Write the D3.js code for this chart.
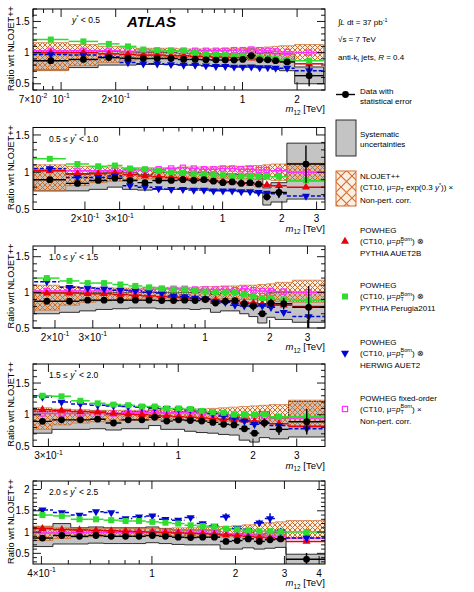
<!DOCTYPE html>
<html><head><meta charset="utf-8">
<script src="https://cdn.jsdelivr.net/npm/d3@7"></script>
<style>body{margin:0;background:#fff}svg{display:block;font-family:"Liberation Sans",Arial,Helvetica,sans-serif}</style>
</head><body><svg id="c" width="474" height="592"></svg>
<script>
// ---------------- DATA ----------------
const p1Edges=[0.07,0.11,0.16,0.21,0.26,0.31,0.37,0.44,0.51,0.59,0.67,0.76,0.85,0.95,1.06,1.18,1.31,1.45,1.6,1.94,2.8];
const p1Data=[0.87,0.89,0.92,0.91,0.905,0.905,0.905,0.89,0.89,0.885,0.88,0.88,0.88,0.89,0.95,0.885,0.885,0.87,0.85,0.63];
const p1Stat=[0.008,0.008,0.008,0.008,0.008,0.008,0.008,0.008,0.008,0.01,0.01,0.01,0.012,0.015,0.02,0.02,0.025,0.03,0.045,0.17];
const p1SysLo=[0.72,0.76,0.8,0.8,0.81,0.81,0.81,0.8,0.8,0.79,0.79,0.79,0.78,0.78,0.8,0.77,0.76,0.73,0.71,0.5];
const p1SysHi=[0.98,1.0,1.02,1.01,1.0,1.0,1.0,0.99,0.99,0.98,0.98,0.98,0.98,0.99,1.06,0.99,1.0,0.99,0.98,0.77];
const p1NloLo=[0.71,0.79,0.84,0.88,0.9,0.91,0.92,0.92,0.92,0.92,0.92,0.92,0.92,0.92,0.91,0.91,0.9,0.9,0.89,0.87];
const p1NloHi=[1.16,1.13,1.1,1.08,1.07,1.07,1.07,1.06,1.06,1.06,1.06,1.07,1.07,1.07,1.08,1.08,1.09,1.1,1.11,1.13];
const p1Red=[1.0,1.0,0.98,0.97,0.96,0.96,0.95,0.95,0.94,0.94,0.93,0.93,0.92,0.92,0.91,0.9,0.89,0.88,0.86,0.82];
const p1Green=[1.21,1.18,1.14,1.1,1.05,1.04,1.03,1.03,1.0,0.98,0.97,0.96,0.95,0.95,0.94,0.92,0.9,0.9,0.88,0.87];
const p1Blue=[0.97,0.96,0.93,0.84,0.82,0.82,0.81,0.8,0.8,0.79,0.78,0.78,0.77,0.77,0.77,0.76,0.76,0.75,0.75,0.71];
const p1Mag=[1.03,1.03,1.03,1.02,1.02,1.02,1.03,1.03,1.03,1.03,1.03,1.03,1.04,1.04,1.05,1.04,1.03,1.02,1.01,1.0];

const p2Edges=[0.11,0.16,0.21,0.26,0.31,0.37,0.44,0.51,0.59,0.67,0.76,0.85,0.95,1.06,1.18,1.31,1.45,1.6,1.76,2.12,3.31];
const p2Data=[0.9,0.85,0.89,0.92,0.89,0.86,0.89,0.89,0.9,0.89,0.9,0.88,0.86,0.87,0.85,0.86,0.84,0.67,0.73,1.11];
const p2Stat=[0.008,0.008,0.008,0.012,0.008,0.008,0.008,0.008,0.008,0.01,0.01,0.012,0.015,0.015,0.02,0.02,0.03,0.05,0.07,0.25];
const p2SysLo=[0.75,0.75,0.77,0.8,0.77,0.76,0.77,0.77,0.78,0.78,0.78,0.77,0.76,0.76,0.75,0.74,0.72,0.56,0.6,0.64];
const p2SysHi=[1.02,0.97,1.0,1.02,1.0,0.97,1.0,1.0,1.0,1.0,1.0,0.99,0.97,0.98,0.97,0.98,0.97,0.79,0.86,1.39];
const p2NloLo=[0.75,0.82,0.86,0.88,0.9,0.91,0.92,0.92,0.92,0.92,0.92,0.92,0.92,0.92,0.91,0.91,0.9,0.9,0.89,0.88];
const p2NloHi=[1.1,1.08,1.07,1.07,1.06,1.06,1.06,1.06,1.07,1.07,1.07,1.07,1.08,1.08,1.08,1.09,1.09,1.1,1.11,1.12];
const p2Red=[1.02,0.98,0.98,0.99,0.97,0.95,0.94,0.93,0.92,0.91,0.9,0.89,0.88,0.87,0.86,0.85,0.84,0.83,0.82,0.8];
const p2Green=[1.18,1.11,1.08,1.09,1.05,1.04,1.02,1.0,0.99,0.98,0.97,0.96,0.96,0.95,0.95,0.95,0.95,0.95,0.94,0.89];
const p2Blue=[1.05,0.93,0.93,0.95,0.82,0.8,0.78,0.77,0.77,0.76,0.76,0.75,0.75,0.75,0.74,0.74,0.73,0.72,0.71,0.68];
const p2Mag=[1.03,1.02,1.02,1.02,1.03,1.03,1.04,1.05,1.06,1.05,1.04,1.04,1.05,1.05,1.04,1.04,1.03,1.03,1.02,1.0];

const p3Edges=[0.16,0.21,0.26,0.31,0.37,0.44,0.51,0.59,0.67,0.76,0.85,0.95,1.06,1.18,1.31,1.45,1.6,1.76,1.94,2.12,2.55,3.62];
const p3Data=[0.875,0.875,0.89,0.89,0.89,0.89,0.89,0.885,0.885,0.89,0.885,0.9,0.85,0.875,0.885,0.84,0.81,0.7,0.85,0.84,0.79];
const p3Stat=[0.01,0.008,0.008,0.008,0.008,0.008,0.008,0.008,0.008,0.01,0.01,0.012,0.015,0.015,0.02,0.025,0.03,0.035,0.06,0.08,0.3];
const p3SysLo=[0.7,0.72,0.74,0.76,0.77,0.78,0.78,0.77,0.77,0.77,0.76,0.77,0.72,0.74,0.74,0.7,0.66,0.57,0.65,0.62,0.58];
const p3SysHi=[1.0,1.0,1.0,1.0,1.0,1.0,1.0,1.0,1.0,1.0,1.0,1.02,0.97,1.0,1.01,0.97,0.95,0.83,1.0,1.0,1.0];
const p3NloLo=[0.75,0.82,0.86,0.88,0.9,0.91,0.92,0.92,0.92,0.92,0.92,0.92,0.91,0.91,0.91,0.9,0.9,0.89,0.88,0.87,0.86];
const p3NloHi=[1.1,1.08,1.07,1.07,1.06,1.06,1.06,1.07,1.07,1.07,1.07,1.08,1.08,1.09,1.09,1.1,1.1,1.11,1.12,1.14,1.17];
const p3Red=[0.99,0.99,0.98,0.98,0.97,0.96,0.95,0.94,0.93,0.92,0.91,0.9,0.89,0.88,0.87,0.86,0.85,0.84,0.83,0.82,0.8];
const p3Green=[1.2,1.16,1.13,1.13,1.11,1.09,1.07,1.05,1.04,1.04,1.02,1.01,1.0,1.0,1.0,0.97,0.95,0.92,0.92,0.9,0.89];
const p3Blue=[1.15,1.07,1.06,1.05,1.03,1.02,1.0,0.99,0.95,0.94,0.92,0.91,0.87,0.86,0.82,0.81,0.8,0.81,0.79,0.72,0.66];
const p3Mag=[1.02,1.02,1.02,1.02,1.03,1.03,1.04,1.05,1.05,1.05,1.04,1.04,1.04,1.04,1.03,1.05,1.03,1.02,1.02,1.01,1.0];

const p4Edges=[0.26,0.31,0.37,0.44,0.51,0.59,0.67,0.76,0.85,0.95,1.06,1.18,1.31,1.45,1.6,1.76,1.94,2.12,2.33,2.78,3.9];
const p4Data=[0.896,0.92,0.92,0.93,0.87,0.92,0.92,0.96,0.9,0.92,0.91,0.9,0.88,0.85,0.84,0.78,0.71,0.87,0.77,0.89];
const p4Stat=[0.012,0.012,0.012,0.012,0.012,0.012,0.012,0.015,0.015,0.015,0.02,0.02,0.02,0.025,0.03,0.04,0.05,0.07,0.09,0.2];
const p4SysLo=[0.71,0.77,0.77,0.78,0.76,0.78,0.78,0.83,0.77,0.77,0.74,0.72,0.71,0.69,0.68,0.6,0.57,0.64,0.62,0.65];
const p4SysHi=[1.05,1.05,1.05,1.06,1.0,1.05,1.05,1.1,1.03,1.05,1.05,1.04,1.03,1.01,1.0,0.95,0.88,1.05,0.95,1.21];
const p4NloLo=[0.77,0.84,0.87,0.89,0.9,0.91,0.91,0.92,0.92,0.92,0.92,0.91,0.91,0.9,0.9,0.89,0.88,0.87,0.86,0.8];
const p4NloHi=[1.11,1.09,1.08,1.07,1.07,1.07,1.07,1.07,1.07,1.08,1.08,1.09,1.1,1.11,1.12,1.13,1.14,1.15,1.16,1.23];
const p4Red=[1.08,1.07,1.05,1.04,1.02,1.01,1.0,0.99,0.98,0.97,0.96,0.95,0.94,0.93,0.92,0.91,0.9,0.88,0.86,0.82];
const p4Green=[1.3,1.29,1.22,1.18,1.16,1.15,1.13,1.13,1.1,1.1,1.09,1.06,1.04,1.03,1.0,1.0,1.0,1.01,0.97,0.97];
const p4Blue=[1.28,1.2,1.17,1.15,1.14,1.13,1.12,1.11,1.1,1.09,1.08,1.06,1.02,0.98,0.95,0.9,0.85,0.87,0.83,0.78];
const p4Mag=[1.02,1.02,1.02,1.02,1.02,1.03,1.03,1.03,1.03,1.03,1.03,1.02,1.02,1.01,1.0,1.0,0.99,0.98,0.96,0.95];

const p5Edges=[0.37,0.44,0.51,0.59,0.67,0.76,0.85,0.95,1.06,1.18,1.31,1.45,1.6,1.76,1.94,2.12,2.33,2.55,2.78,3.04,4.27];
const p5Data=[0.86,0.92,0.9,0.92,0.9,0.9,0.9,0.92,0.9,0.88,0.87,0.88,0.88,0.78,0.8,0.84,0.78,0.82,0.84,0.36];
const p5Stat=[0.015,0.015,0.015,0.015,0.015,0.015,0.015,0.015,0.02,0.02,0.025,0.03,0.03,0.035,0.04,0.045,0.05,0.06,0.07,0.15];
const p5SysLo=[0.66,0.72,0.72,0.74,0.73,0.73,0.73,0.75,0.73,0.71,0.7,0.7,0.7,0.6,0.6,0.63,0.6,0.62,0.64,0.2];
const p5SysHi=[1.12,1.2,1.1,1.12,1.1,1.1,1.1,1.12,1.08,1.05,1.05,1.05,1.05,0.95,0.95,1.0,0.95,0.98,1.0,0.48];
const p5NloLo=[0.8,0.85,0.88,0.89,0.9,0.91,0.91,0.91,0.91,0.91,0.9,0.9,0.9,0.89,0.89,0.88,0.88,0.87,0.86,0.84];
const p5NloHi=[1.14,1.1,1.08,1.08,1.08,1.08,1.08,1.09,1.09,1.1,1.1,1.11,1.12,1.13,1.15,1.17,1.2,1.22,1.24,1.27];
const p5Red=[1.08,1.06,1.05,1.04,1.03,1.02,1.01,1.0,0.99,0.98,0.97,0.96,0.95,0.93,0.92,0.9,0.88,0.86,0.84,0.78];
const p5Green=[1.4,1.38,1.3,1.3,1.28,1.26,1.26,1.24,1.22,1.2,1.16,1.14,1.12,1.08,1.06,1.04,1.02,1.02,1.01,1.0];
const p5Blue=[1.52,1.46,1.4,1.48,1.46,1.32,1.36,1.38,1.3,1.28,1.34,1.2,1.14,1.36,1.08,1.04,1.22,1.32,1.02,0.86];
const p5BlueErr=[0.02,0.02,0.02,0.02,0.02,0.02,0.02,0.03,0.03,0.03,0.03,0.04,0.04,0.08,0.05,0.05,0.07,0.12,0.08,0.06];
const p5Mag=[0.98,0.98,0.99,0.99,0.99,0.99,0.99,1.0,1.0,0.99,0.99,0.98,0.97,0.96,0.95,0.94,0.92,0.91,0.9,0.86];

// axis ranges and tick labels
const xDomains=[[0.07,2.85],[0.109,3.31],[0.158,3.62],[0.26,3.9],[0.373,4.2]];
const yDomains=[[0.4,1.7],[0.5,1.6],[0.5,1.65],[0.5,1.8],[0.25,2.2]];
const xTickVals=[[0.07,0.1,0.2,1,2],[0.2,0.3,1,2,3],[0.2,0.3,1,2,3],[0.3,1,2,3],[0.4,1,2,3,4]];
const xTickLabels=[["7×10^-2","10^-1","2×10^-1","1","2"],["2×10^-1","3×10^-1","1","2","3"],["2×10^-1","3×10^-1","1","2","3"],["3×10^-1","1","2","3"],["4×10^-1","1","2","3","4"]];
const yTickVals=[[0.5,1,1.5],[0.5,1,1.5],[0.5,1,1.5],[0.5,1,1.5],[0.5,1,1.5,2]];
const rapLabels=[["","0.5"],["0.5","1.0"],["1.0","1.5"],["1.5","2.0"],["2.0","2.5"]];

// ---------------- DRAW ----------------
const C={red:"#e8000b",green:"#2fdc2f",blue:"#0008d0",mag:"#ff30ff",hatch:"#cf6d2c",grey:"#c4c4c4"};
const svg=d3.select("#c");
const defs=svg.append("defs");
function hatchPat(id,s,w){
  const p=defs.append("pattern").attr("id",id).attr("patternUnits","userSpaceOnUse").attr("width",s).attr("height",s);
  p.append("rect").attr("width",s).attr("height",s).attr("fill","rgba(235,160,100,0.18)");
  p.append("path").attr("d",`M0,0L${s},${s}M${s},0L0,${s}`).attr("stroke",C.hatch).attr("stroke-width",w).attr("fill","none");
}
hatchPat("hatch",5,1.0);
hatchPat("hatchL",11,1.1);

function rich(parent,x,y,parts,size,anchor){
  const t=parent.append("text").attr("x",x).attr("y",y).attr("font-size",size).attr("text-anchor",anchor||"start").attr("fill","#000");
  let off=0;
  parts.forEach(pt=>{
    if(typeof pt==="string") pt={t:pt};
    const s=t.append("tspan").text(pt.t);
    const target=pt.sub?size*0.3:(pt.sup?-size*0.42:0);
    if(target-off) s.attr("dy",target-off);
    off=target;
    if(pt.sub||pt.sup) s.attr("font-size",size*0.68);
    if(pt.i) s.attr("font-style","italic");
    if(pt.dx) s.attr("dx",pt.dx);
  });
  return t;
}
function tickParts(lbl){
  const k=lbl.indexOf("^");
  return k<0?[lbl]:[lbl.slice(0,k),{t:lbl.slice(k+1),sup:1}];
}

const panels=[
 {edges:p1Edges,data:p1Data,stat:p1Stat,sysLo:p1SysLo,sysHi:p1SysHi,nloLo:p1NloLo,nloHi:p1NloHi,red:p1Red,green:p1Green,blue:p1Blue,mag:p1Mag,blueErr:null},
 {edges:p2Edges,data:p2Data,stat:p2Stat,sysLo:p2SysLo,sysHi:p2SysHi,nloLo:p2NloLo,nloHi:p2NloHi,red:p2Red,green:p2Green,blue:p2Blue,mag:p2Mag,blueErr:null},
 {edges:p3Edges,data:p3Data,stat:p3Stat,sysLo:p3SysLo,sysHi:p3SysHi,nloLo:p3NloLo,nloHi:p3NloHi,red:p3Red,green:p3Green,blue:p3Blue,mag:p3Mag,blueErr:null},
 {edges:p4Edges,data:p4Data,stat:p4Stat,sysLo:p4SysLo,sysHi:p4SysHi,nloLo:p4NloLo,nloHi:p4NloHi,red:p4Red,green:p4Green,blue:p4Blue,mag:p4Mag,blueErr:null},
 {edges:p5Edges,data:p5Data,stat:p5Stat,sysLo:p5SysLo,sysHi:p5SysHi,nloLo:p5NloLo,nloHi:p5NloHi,red:p5Red,green:p5Green,blue:p5Blue,mag:p5Mag,blueErr:p5BlueErr}
];

const X0=33,X1=325;
const tops=[9,127.5,246,364,481], heights=[81,82,82,82.5,83];
const triUp=d3.symbol(d3.symbolTriangle).size(28)();

panels.forEach((p,i)=>{
  const top=tops[i],h=heights[i],bot=top+h;
  const x=d3.scaleLog().domain(xDomains[i]).range([X0,X1]);
  const y=d3.scaleLinear().domain(yDomains[i]).range([bot,top]);
  const cid="clip"+i;
  defs.append("clipPath").attr("id",cid).append("rect").attr("x",X0).attr("y",top).attr("width",X1-X0).attr("height",h);
  const g=svg.append("g");
  const pg=g.append("g").attr("clip-path",`url(#${cid})`);
  const n=p.data.length, idx=d3.range(n);
  const cx=j=>x(Math.sqrt(p.edges[j]*p.edges[j+1]));
  function band(lo,hi){
    let d="";
    idx.forEach(j=>{d+=(j?"L":"M")+x(p.edges[j])+","+y(hi[j])+"L"+x(p.edges[j+1])+","+y(hi[j]);});
    for(let j=n-1;j>=0;j--){d+="L"+x(p.edges[j+1])+","+y(lo[j])+"L"+x(p.edges[j])+","+y(lo[j]);}
    return d+"Z";
  }
  pg.append("path").attr("d",band(p.sysLo,p.sysHi)).attr("fill",C.grey).attr("stroke","#1a1a1a").attr("stroke-width",0.9);
  pg.append("path").attr("d",band(p.nloLo,p.nloHi)).attr("fill","url(#hatch)").attr("stroke",C.hatch).attr("stroke-width",0.7);

  function series(vals,color,dash,marker,err){
    const sg=pg.append("g");
    sg.selectAll("line.h").data(idx).join("line").attr("class","h")
      .attr("x1",j=>x(p.edges[j])).attr("x2",j=>x(p.edges[j+1]))
      .attr("y1",j=>y(vals[j])).attr("y2",j=>y(vals[j]))
      .attr("stroke",color).attr("stroke-width",1.5).attr("stroke-dasharray",dash||null);
    if(err){
      sg.selectAll("line.v").data(idx).join("line").attr("class","v")
        .attr("x1",cx).attr("x2",cx).attr("y1",j=>y(vals[j]-err[j])).attr("y2",j=>y(vals[j]+err[j]))
        .attr("stroke",color).attr("stroke-width",1.5);
    }
    if(marker==="sq"){
      sg.selectAll("rect").data(idx).join("rect").attr("x",j=>cx(j)-3).attr("y",j=>y(vals[j])-3)
        .attr("width",6).attr("height",6).attr("fill",color);
    } else if(marker==="osq"){
      sg.selectAll("rect").data(idx).join("rect").attr("x",j=>cx(j)-2.6).attr("y",j=>y(vals[j])-2.6)
        .attr("width",5.2).attr("height",5.2).attr("fill","none").attr("stroke",color).attr("stroke-width",1.2);
    } else {
      sg.selectAll("path").data(idx).join("path").attr("d",triUp).attr("fill",color)
        .attr("transform",j=>`translate(${cx(j)},${y(vals[j])})`+(marker==="dn"?" rotate(180)":""));
    }
  }
  series(p.mag,C.mag,null,"osq");
  series(p.red,C.red,null,"up");
  series(p.blue,C.blue,"4,2","dn",p.blueErr);
  series(p.green,C.green,null,"sq");

  // data
  const dg=pg.append("g");
  dg.selectAll("line.h").data(idx).join("line").attr("class","h")
    .attr("x1",j=>x(p.edges[j])).attr("x2",j=>x(p.edges[j+1]))
    .attr("y1",j=>y(p.data[j])).attr("y2",j=>y(p.data[j])).attr("stroke","#000").attr("stroke-width",1.4);
  dg.selectAll("line.v").data(idx).join("line").attr("class","v")
    .attr("x1",cx).attr("x2",cx).attr("y1",j=>y(p.data[j]-p.stat[j])).attr("y2",j=>y(p.data[j]+p.stat[j]))
    .attr("stroke","#000").attr("stroke-width",1.4);
  dg.selectAll("circle").data(idx).join("circle").attr("cx",cx).attr("cy",j=>y(p.data[j])).attr("r",3.4).attr("fill","#000");

  // frame
  g.append("rect").attr("x",X0).attr("y",top).attr("width",X1-X0).attr("height",h).attr("fill","none").attr("stroke","#000").attr("stroke-width",1);
  // y ticks
  const yd=yDomains[i];
  const yt=[];
  for(let v=Math.ceil(yd[0]*10-1e-6)/10; v<=yd[1]+1e-6; v=Math.round((v+0.1)*10)/10) yt.push(v);
  yt.forEach(v=>{
    const major=Math.abs(v*2-Math.round(v*2))<1e-6, L=major?8:4, yy=y(v);
    g.append("line").attr("x1",X0).attr("x2",X0+L).attr("y1",yy).attr("y2",yy).attr("stroke","#000").attr("stroke-width",0.9);
    g.append("line").attr("x1",X1).attr("x2",X1-L).attr("y1",yy).attr("y2",yy).attr("stroke","#000").attr("stroke-width",0.9);
  });
  yTickVals[i].forEach(v=>{
    g.append("text").attr("x",X0-3.5).attr("y",y(v)+3.6).attr("text-anchor","end").attr("font-size",10).text(String(v));
  });
  // x ticks
  const xd=xDomains[i];
  for(let e=-2;e<=0;e++) for(let k=1;k<=9;k++){
    const v=k*Math.pow(10,e);
    if(v<xd[0]*0.999||v>xd[1]) continue;
    const lab=xTickVals[i].some(t=>Math.abs(t-v)<1e-9);
    const L=(lab||k===1)?8:4, xx=x(v);
    g.append("line").attr("x1",xx).attr("x2",xx).attr("y1",bot).attr("y2",bot-L).attr("stroke","#000").attr("stroke-width",0.9);
    g.append("line").attr("x1",xx).attr("x2",xx).attr("y1",top).attr("y2",top+L).attr("stroke","#000").attr("stroke-width",0.9);
  }
  xTickVals[i].forEach((v,k)=>{ rich(g,x(v),bot+12.5,tickParts(xTickLabels[i][k]),10,"middle"); });
  rich(g,X1,bot+22,[{t:"m",i:1},{t:"12",sub:1},{t:" [TeV]"}],9.5,"end");
  // y title
  g.append("text").attr("transform",`translate(13.5,${top+h/2-1}) rotate(-90)`).attr("text-anchor","middle").attr("font-size",9.2).text("Ratio wrt NLOJET++");
  // rapidity label
  const rl=rapLabels[i];
  if(rl[0]==="") rich(g,72,top+14,[{t:"y",i:1},{t:"*",sup:1},{t:" < "+rl[1]}],8.5);
  else rich(g,49,top+14,[{t:rl[0]+" ≤ "},{t:"y",i:1},{t:"*",sup:1},{t:" < "+rl[1]}],8.5);
});

// ATLAS label
svg.append("text").attr("x",127).attr("y",27).attr("font-size",15).attr("font-weight","bold").attr("font-style","italic").text("ATLAS");

// ---------------- LEGEND ----------------
const lg=svg.append("g");
const LX=360, LF=8;
rich(lg,338,25,["∫",{t:"L",i:1},{t:" dt = 37 pb"},{t:"-1",sup:1}],LF);
rich(lg,338,42,["√s = 7 TeV"],LF);
rich(lg,338,60,["anti-k",{t:"t",sub:1},{t:" jets,  "},{t:"R",i:1},{t:" = 0.4"}],LF);

lg.append("line").attr("x1",336).attr("x2",355).attr("y1",94.5).attr("y2",94.5).attr("stroke","#000").attr("stroke-width",1.4);
lg.append("circle").attr("cx",345.5).attr("cy",94.5).attr("r",3.4).attr("fill","#000");
rich(lg,LX,94,["Data with"],LF); rich(lg,LX,103.5,["statistical error"],LF);

lg.append("rect").attr("x",336).attr("y",120).attr("width",20).attr("height",36).attr("fill",C.grey).attr("stroke","#1a1a1a").attr("stroke-width",0.9);
rich(lg,LX,136.5,["Systematic"],LF); rich(lg,LX,147,["uncertainties"],LF);

lg.append("rect").attr("x",336).attr("y",171).attr("width",20).attr("height",35).attr("fill","url(#hatchL)").attr("stroke",C.hatch).attr("stroke-width",1);
rich(lg,LX,179,["NLOJET++"],LF);
rich(lg,LX,190,["(CT10, μ=",{t:"p",i:1},{t:"T",sub:1},{t:" exp(0.3 "},{t:"y",i:1},{t:"*",sup:1},{t:")) ×"}],LF);
rich(lg,LX,203,["Non-pert. corr."],LF);

const pb=(end)=>["(CT10, μ=",{t:"p",i:1},{t:"T",sub:1},{t:"Born",sup:1,dx:-3.2},{t:") "+end}];
const legSeries=[
 {y0:233, m:"up", c:C.red, l3:"PYTHIA  AUET2B", end:"⊗", top:"POWHEG"},
 {y0:288, m:"sq", c:C.green, l3:"PYTHIA  Perugia2011", end:"⊗", top:"POWHEG"},
 {y0:344.5, m:"dn", c:C.blue, l3:"HERWIG  AUET2", end:"⊗", top:"POWHEG"},
 {y0:400.5, m:"osq", c:C.mag, l3:"Non-pert. corr.", end:"×", top:"POWHEG fixed-order"}
];
legSeries.forEach(s=>{
  rich(lg,LX,s.y0,[s.top],LF);
  rich(lg,LX,s.y0+11,pb(s.end),LF);
  rich(lg,LX,s.y0+23,[s.l3],LF);
  const my=s.y0+8.5, mx=345;
  if(s.m==="sq") lg.append("rect").attr("x",mx-3).attr("y",my-3).attr("width",6).attr("height",6).attr("fill",s.c);
  else if(s.m==="osq") lg.append("rect").attr("x",mx-2.6).attr("y",my-2.6).attr("width",5.2).attr("height",5.2).attr("fill","none").attr("stroke",s.c).attr("stroke-width",1.2);
  else lg.append("path").attr("d",triUp).attr("fill",s.c).attr("transform",`translate(${mx},${my})`+(s.m==="dn"?" rotate(180)":""));
});
</script></body></html>
